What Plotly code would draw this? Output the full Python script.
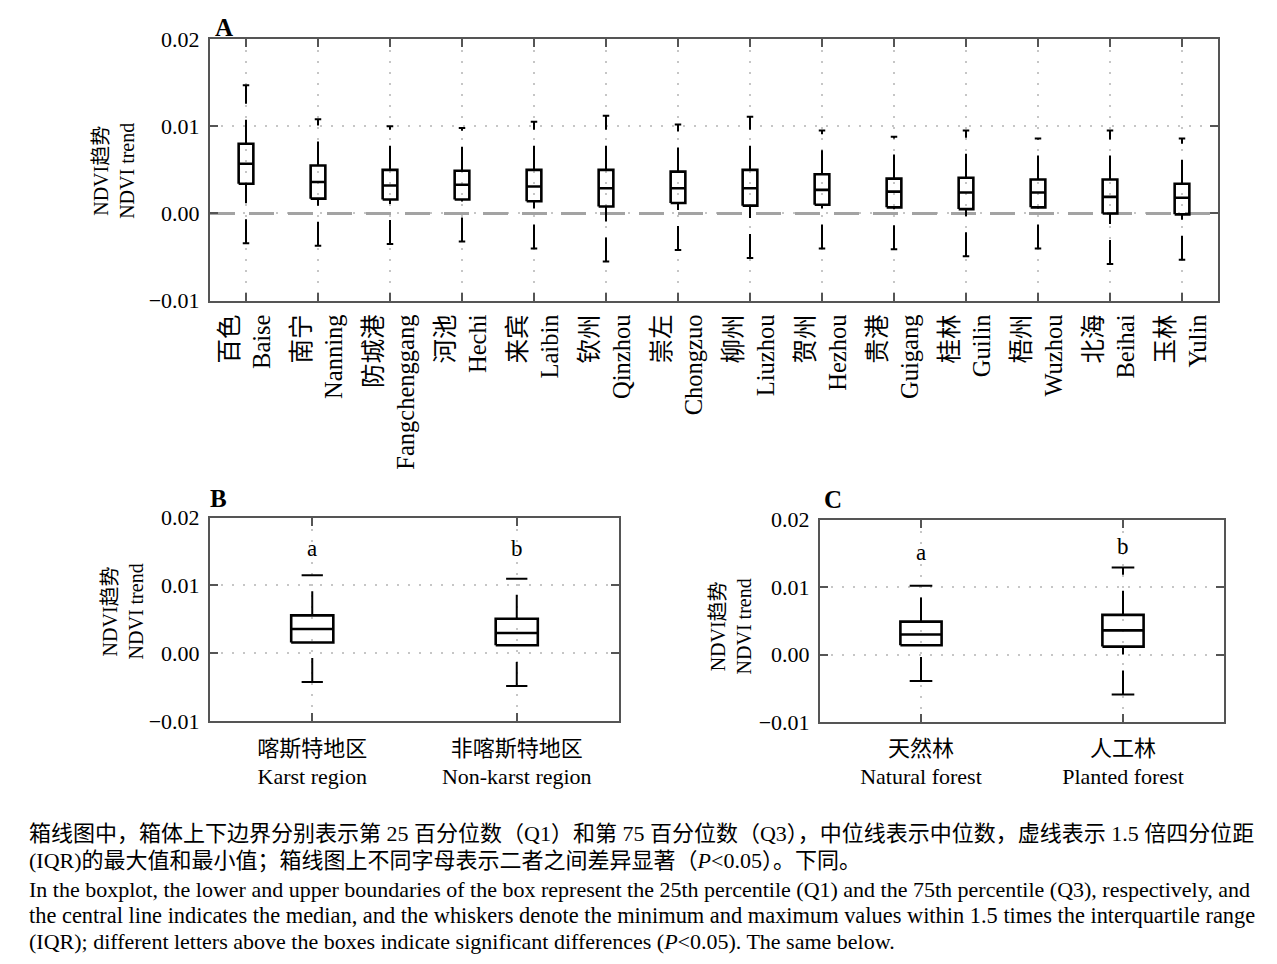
import plotly.graph_objects as go

# ---- data ----
cities_cn = ["百色", "南宁", "防城港", "河池", "来宾", "钦州", "崇左",
             "柳州", "贺州", "贵港", "桂林", "梧州", "北海", "玉林"]
cities_en = ["Baise", "Nanning", "Fangchenggang", "Hechi", "Laibin", "Qinzhou", "Chongzuo",
             "Liuzhou", "Hezhou", "Guigang", "Guilin", "Wuzhou", "Beihai", "Yulin"]
city_upper = [0.0147, 0.0108, 0.0100, 0.0098, 0.0105, 0.0112, 0.0102,
              0.0111, 0.0095, 0.0088, 0.0095, 0.0086, 0.0095, 0.0086]
city_q3 = [0.0080, 0.0055, 0.0050, 0.0049, 0.0050, 0.0050, 0.0048,
           0.0050, 0.0045, 0.0040, 0.0041, 0.0039, 0.0039, 0.0034]
city_median = [0.0057, 0.0036, 0.0032, 0.0033, 0.0031, 0.0029, 0.0029,
               0.0029, 0.0027, 0.0025, 0.0024, 0.0024, 0.0019, 0.0018]
city_q1 = [0.0034, 0.0017, 0.0016, 0.0016, 0.0014, 0.0008, 0.0012,
           0.0009, 0.0010, 0.0007, 0.0005, 0.0007, 0.0000, -0.0001]
city_lower = [-0.0034, -0.0037, -0.0035, -0.0032, -0.0040, -0.0055, -0.0042,
              -0.0051, -0.0040, -0.0041, -0.0049, -0.0040, -0.0058, -0.0053]

region_cn = ["喀斯特地区", "非喀斯特地区"]
region_en = ["Karst region", "Non-karst region"]
region_upper = [0.0115, 0.0110]
region_q3 = [0.0056, 0.0051]
region_median = [0.0036, 0.0030]
region_q1 = [0.0016, 0.0012]
region_lower = [-0.0042, -0.0048]
region_letters = ["a", "b"]
region_letter_y = [0.0155, 0.0154]

forest_cn = ["天然林", "人工林"]
forest_en = ["Natural forest", "Planted forest"]
forest_upper = [0.0102, 0.0129]
forest_q3 = [0.0049, 0.0059]
forest_median = [0.0030, 0.0036]
forest_q1 = [0.0014, 0.0012]
forest_lower = [-0.0039, -0.0059]
forest_letters = ["a", "b"]
forest_letter_y = [0.0151, 0.0160]

y_ticks = [-0.01, 0.0, 0.01, 0.02]
y_ticktext = ["\u22120.01", "0.00", "0.01", "0.02"]

SERIF = "Liberation Serif, Noto Sans CJK SC, serif"
W, H = 1269, 964
# page offset / vertical scale seen in the screenshot
X_OFF, Y_OFF, Y_SCALE = 8, 19, 0.975


def px_x(p):
    return (p - X_OFF) / W


def px_y(p):
    return 1 - (p - Y_OFF) / Y_SCALE / H


def box_traces(q1, med, q3, lo, hi, xa, ya, hw, cw):
    bx, by, mx, my, cx, cy, ux, uy, lx, ly = [], [], [], [], [], [], [], [], [], []
    for i in range(len(q1)):
        bx += [i - hw, i + hw, i + hw, i - hw, i - hw, None]
        by += [q1[i], q1[i], q3[i], q3[i], q1[i], None]
        mx += [i - hw, i + hw, None]
        my += [med[i], med[i], None]
        cx += [i - cw, i + cw, None, i - cw, i + cw, None]
        cy += [hi[i], hi[i], None, lo[i], lo[i], None]
        # whiskers drawn from low value to high value
        ux += [i, i, None]
        uy += [q3[i], hi[i], None]
        lx += [i, i, None]
        ly += [lo[i], q1[i], None]
    common = dict(mode="lines", xaxis=xa, yaxis=ya, showlegend=False, hoverinfo="skip")
    return [
        go.Scatter(x=ux, y=uy, line=dict(color="black", width=2, dash="24px,16px"), **common),
        go.Scatter(x=lx, y=ly, line=dict(color="black", width=2, dash="24px,16px"), **common),
        go.Scatter(x=cx, y=cy, line=dict(color="black", width=2), **common),
        go.Scatter(x=bx, y=by, line=dict(color="black", width=2.6), **common),
        go.Scatter(x=mx, y=my, line=dict(color="black", width=2.6), **common),
    ]


n = len(cities_cn)
traces = []
# zero reference line in panel A
traces.append(go.Scatter(x=[-0.5, n - 0.5], y=[0, 0], mode="lines", xaxis="x", yaxis="y",
                         line=dict(color="#a3a3a3", width=3.2, dash="25px,14px"),
                         showlegend=False, hoverinfo="skip"))
traces += box_traces(city_q1, city_median, city_q3, city_lower, city_upper, "x", "y", 0.102, 0.045)
traces += box_traces(region_q1, region_median, region_q3, region_lower, region_upper, "x2", "y2", 0.103, 0.052)
traces += box_traces(forest_q1, forest_median, forest_q3, forest_lower, forest_upper, "x3", "y3", 0.102, 0.056)

fig = go.Figure(data=traces)

axis_style = dict(showline=True, mirror="ticks", linecolor="#555555", linewidth=2,
                  ticks="inside", ticklen=8, tickwidth=2, tickcolor="#555555",
                  showgrid=True, gridcolor="#c6c6c6", griddash="2px,9px", gridwidth=1.5,
                  zeroline=False, fixedrange=True)
yaxis_style = dict(axis_style, range=[-0.01, 0.02], tickvals=y_ticks, ticktext=y_ticktext,
                   ticklabelstandoff=4,
                   tickfont=dict(family=SERIF, size=22, color="black"))

fig.update_layout(
    width=W, height=H, autosize=False,
    margin=dict(l=0, r=0, t=0, b=0),
    paper_bgcolor="white", plot_bgcolor="white",
    font=dict(family=SERIF, color="black"),
    xaxis=dict(axis_style, domain=[px_x(210), px_x(1218)], range=[-0.5, n - 0.5],
               tickvals=list(range(n)), ticklabelstandoff=2,
               ticktext=[f"{c}<br>{e}" for c, e in zip(cities_cn, cities_en)],
               tickangle=-90, tickfont=dict(family=SERIF, size=24.5, color="black")),
    yaxis=dict(yaxis_style, domain=[px_y(300), px_y(38)]),
    xaxis2=dict(axis_style, domain=[px_x(210), px_x(619)], range=[-0.5, 1.5],
                tickvals=[0, 1], ticklabelstandoff=6,
                ticktext=[f"{c}<br>{e}" for c, e in zip(region_cn, region_en)],
                tickfont=dict(family=SERIF, size=22, color="black"), anchor="y2"),
    yaxis2=dict(yaxis_style, domain=[px_y(721), px_y(517)], anchor="x2"),
    xaxis3=dict(axis_style, domain=[px_x(820), px_x(1224)], range=[-0.5, 1.5],
                tickvals=[0, 1], ticklabelstandoff=5,
                ticktext=[f"{c}<br>{e}" for c, e in zip(forest_cn, forest_en)],
                tickfont=dict(family=SERIF, size=22, color="black"), anchor="y3"),
    yaxis3=dict(yaxis_style, domain=[px_y(722), px_y(519)], anchor="x3"),
)

ann = []
# panel letters
ann.append(dict(text="<b>A</b>", x=px_x(224), y=1 + 8 / H, xref="paper", yref="paper",
                xanchor="center", yanchor="top", showarrow=False,
                font=dict(family=SERIF, size=25)))
for letter, x, y in [("B", 218, 498), ("C", 833, 499)]:
    ann.append(dict(text=f"<b>{letter}</b>", x=px_x(x), y=px_y(y), xref="paper", yref="paper",
                    xanchor="center", yanchor="middle", showarrow=False,
                    font=dict(family=SERIF, size=25)))
# y-axis titles
for x, y in [(114, 170), (123, 611), (731, 626)]:
    ann.append(dict(text="NDVI趋势<br>NDVI trend", x=px_x(x), y=px_y(y), xref="paper", yref="paper",
                    xanchor="center", yanchor="middle",
                    textangle=-90, showarrow=False, font=dict(family=SERIF, size=20)))
# significance letters
for i, (t, yv) in enumerate(zip(region_letters, region_letter_y)):
    ann.append(dict(text=t, x=i, y=yv, xref="x2", yref="y2", showarrow=False,
                    font=dict(family=SERIF, size=23)))
for i, (t, yv) in enumerate(zip(forest_letters, forest_letter_y)):
    ann.append(dict(text=t, x=i, y=yv, xref="x3", yref="y3", showarrow=False,
                    font=dict(family=SERIF, size=23)))

# caption
caption = [
    ("箱线图中，箱体上下边界分别表示第 25 百分位数（Q1）和第 75 百分位数（Q3），中位线表示中位数，虚线表示 1.5 倍四分位距", 833, 22),
    ("(IQR)的最大值和最小值；箱线图上不同字母表示二者之间差异显著（<i>P</i><0.05）。下同。", 860, 22),
    ("In the boxplot, the lower and upper boundaries of the box represent the 25th percentile (Q1) and the 75th percentile (Q3), respectively, and", 889, 22),
    ("the central line indicates the median, and the whiskers denote the minimum and maximum values within 1.5 times the interquartile range", 915, 22.4),
    ("(IQR); different letters above the boxes indicate significant differences (<i>P</i><0.05). The same below.", 941, 22),
]
for text, y, size in caption:
    ann.append(dict(text=text, x=px_x(27), y=px_y(y), xref="paper", yref="paper",
                    xanchor="left", yanchor="middle", showarrow=False,
                    font=dict(family=SERIF, size=size)))

fig.update_layout(annotations=ann)

fig.write_html("out.html")
